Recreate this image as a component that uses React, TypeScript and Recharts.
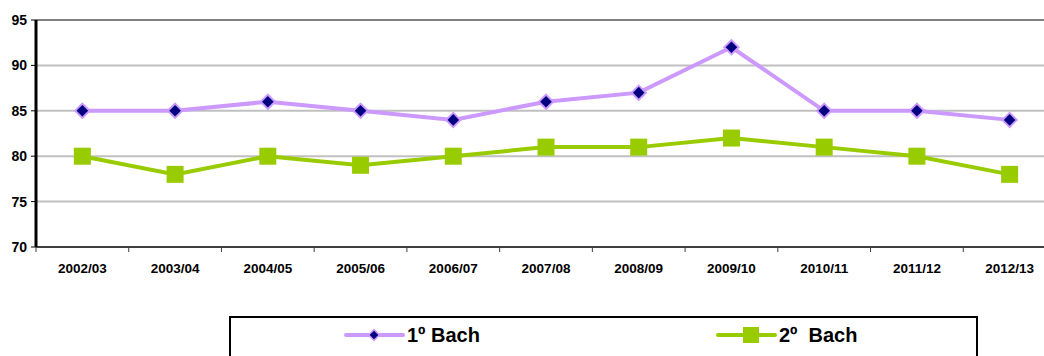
import { LineChart, Line, XAxis, YAxis, CartesianGrid, ReferenceLine } from 'recharts';

const years = ['2002/03', '2003/04', '2004/05', '2005/06', '2006/07', '2007/08', '2008/09', '2009/10', '2010/11', '2011/12', '2012/13'];
const bach1 = [85, 85, 86, 85, 84, 86, 87, 92, 85, 85, 84];
const bach2 = [80, 78, 80, 79, 80, 81, 81, 82, 81, 80, 78];
const yTicks = [70, 75, 80, 85, 90, 95];

const data = years.map((year, i) => ({ year, b1: bach1[i], b2: bach2[i] }));

const PURPLE = '#cc99ff';
const NAVY = '#000080';
const GREEN = '#99cc00';
const FONT = 'Arial, "Liberation Sans", sans-serif';

const CHART_W = 1060;
const PLOT_LEFT = 36;
const PLOT_RIGHT = 4;
const BAND = (CHART_W - PLOT_LEFT - PLOT_RIGHT) / years.length;

function CatTick({ x, y, payload }: any) {
  const bx = x - BAND / 2;
  return (
    <g>
      <line x1={bx} x2={bx} y1={y - 5} y2={y} stroke="#404040" strokeWidth={1} />
      <text x={x} y={y + 21} textAnchor="middle" fill="#000" fontFamily={FONT} fontWeight="bold" fontSize={13.5}>
        {payload.value}
      </text>
    </g>
  );
}

function Diamond({ cx, cy, r = 8.5, inner = 5.8 }: any) {
  if (cx == null || cy == null) return null;
  return (
    <g>
      <polygon points={`${cx},${cy - r} ${cx + r},${cy} ${cx},${cy + r} ${cx - r},${cy}`} fill={PURPLE} />
      <polygon points={`${cx},${cy - inner} ${cx + inner},${cy} ${cx},${cy + inner} ${cx - inner},${cy}`} fill={NAVY} />
    </g>
  );
}

function Square({ cx, cy, s = 17 }: any) {
  if (cx == null || cy == null) return null;
  return <rect x={cx - s / 2} y={cy - s / 2} width={s} height={s} fill={GREEN} />;
}

function LegendBox() {
  return (
    <div
      style={{
        position: 'absolute',
        left: 229,
        top: 316,
        width: 749,
        height: 60,
        border: '2px solid #000',
        boxSizing: 'border-box',
        background: '#fff',
      }}
    >
      <svg width={749} height={60} style={{ position: 'absolute', left: -2, top: -2 }}>
        <line x1={117} x2={174} y1={19} y2={19} stroke={PURPLE} strokeWidth={4} strokeLinecap="round" />
        <Diamond cx={145} cy={19} r={6.5} inner={4.3} />
        <text x={178} y={26} fontFamily={FONT} fontWeight="bold" fontSize={20} fill="#000">
          1º Bach
        </text>
        <line x1={489} x2={546} y1={19} y2={19} stroke={GREEN} strokeWidth={4} strokeLinecap="round" />
        <Square cx={522} cy={19} s={16} />
        <text x={550} y={26} fontFamily={FONT} fontWeight="bold" fontSize={20} fill="#000" xmlSpace="preserve">
          2º  Bach
        </text>
      </svg>
    </div>
  );
}

export default function App() {
  return (
    <div
      style={{
        position: 'fixed',
        left: 0,
        top: 0,
        width: 1044,
        height: 356,
        overflow: 'hidden',
        background: '#fff',
      }}
    >
      <LineChart width={CHART_W} height={356} data={data} margin={{ top: 20, right: PLOT_RIGHT, left: 0, bottom: 79 }}>
        <CartesianGrid vertical={false} stroke="#c0c0c0" strokeWidth={2} horizontalValues={[75, 80, 85, 90]} />
        <ReferenceLine y={95} stroke="#808080" strokeWidth={2} />
        <XAxis
          dataKey="year"
          interval={0}
          height={30}
          padding={{ left: BAND / 2, right: BAND / 2 }}
          tickLine={false}
          tickSize={5}
          tickMargin={0}
          axisLine={{ stroke: '#404040', strokeWidth: 2 }}
          tick={<CatTick />}
        />
        <YAxis
          width={PLOT_LEFT}
          domain={[70, 95]}
          ticks={yTicks}
          interval={0}
          tickSize={5}
          tickMargin={4}
          tickLine={{ stroke: '#000', strokeWidth: 1 }}
          axisLine={{ stroke: '#000', strokeWidth: 3 }}
          tick={{ fill: '#000', fontFamily: FONT, fontWeight: 'bold', fontSize: 14 }}
        />
        <Line
          dataKey="b1"
          stroke={PURPLE}
          strokeWidth={4}
          isAnimationActive={false}
          dot={(p: any) => <Diamond key={`d1-${p.index}`} cx={p.cx} cy={p.cy} />}
          activeDot={false}
        />
        <Line
          dataKey="b2"
          stroke={GREEN}
          strokeWidth={4}
          isAnimationActive={false}
          dot={(p: any) => <Square key={`d2-${p.index}`} cx={p.cx} cy={p.cy} />}
          activeDot={false}
        />
      </LineChart>
      <LegendBox />
    </div>
  );
}
